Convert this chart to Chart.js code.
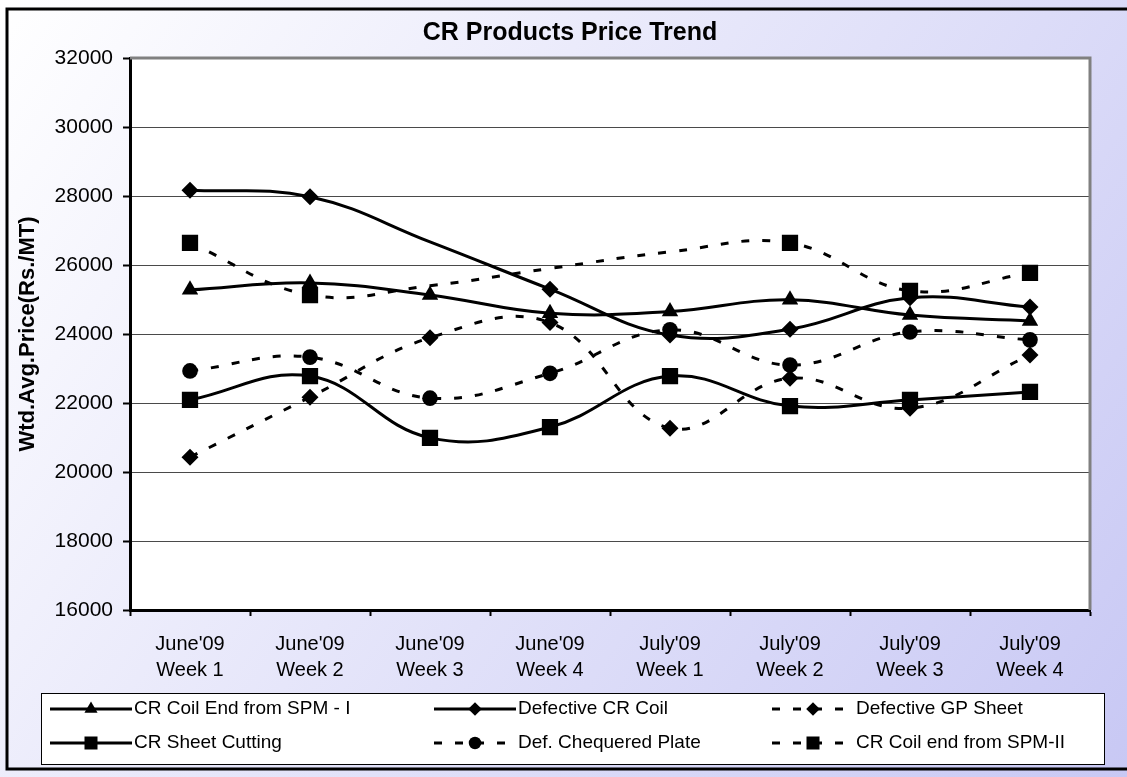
<!DOCTYPE html>
<html>
<head>
<meta charset="utf-8">
<title>CR Products Price Trend</title>
<script src="https://cdn.jsdelivr.net/npm/chart.js@4.4.0/dist/chart.umd.min.js"></script>
<style>
  html, body { margin: 0; padding: 0; background: #fff; }
  #wrap { width: 1127px; height: 777px; position: relative; }
</style>
</head>
<body>
<div id="wrap"><canvas id="priceChart"></canvas></div>
<script>
// Categories (x axis, two lines each)
const weeks = [
    ["June'09", "Week 1"], ["June'09", "Week 2"], ["June'09", "Week 3"], ["June'09", "Week 4"],
    ["July'09", "Week 1"], ["July'09", "Week 2"], ["July'09", "Week 3"], ["July'09", "Week 4"]
];

// Series values (Rs./MT)
const spm1Coil   = [25280, 25480, 25130, 24600, 24650, 24990, 24550, 24380];
const defCrCoil  = [28170, 27980, 26670, 25300, 23970, 24140, 25050, 24780];
const defGpSheet = [20430, 22170, 23890, 24330, 21270, 22720, 21850, 23390];
const sheetCut   = [22090, 22780, 20990, 21300, 22780, 21910, 22090, 22320];
const chequered  = [22930, 23330, 22140, 22860, 24120, 23100, 24060, 23830];
const spm2Coil   = [26640, 25130, 25400, 25900, 26380, 26640, 25250, 25770];

const seriesNames = [
    'CR Coil End from SPM - I', 'Defective CR Coil', 'Defective GP Sheet',
    'CR Sheet Cutting', 'Def. Chequered Plate', 'CR Coil end from SPM-II'
];

// Y axis ticks
const yMin = 16000;
const yMax = 32000;
const yStep = 2000;

const FONT = '"Liberation Sans", Arial, sans-serif';
const DASH = [8, 13];

// points that have no marker drawn in the original
function radii(n, r, hidden) {
    const out = [];
    for (let i = 0; i < n; i++) out.push(hidden.includes(i) ? 0 : r);
    return out;
}

function series(label, data, style, radius, dashed, hidden) {
    return {
        label: label,
        data: data,
        borderColor: '#000',
        backgroundColor: '#000',
        borderWidth: 3,
        borderDash: dashed ? DASH : [],
        tension: 0.4,
        fill: false,
        pointStyle: style,
        pointRadius: radii(data.length, radius, hidden || []),
        pointBorderWidth: 0,
        pointBackgroundColor: '#000',
        _legendRadius: radius * 0.8
    };
}

// Background, frame, title and legend
const framePlugin = {
    id: 'frame',
    beforeDraw(chart) {
        const ctx = chart.ctx;
        const w = chart.width, h = chart.height;
        const area = chart.chartArea;
        ctx.save();
        const g = ctx.createLinearGradient(0, 0, w, h);
        g.addColorStop(0, '#ffffff');
        g.addColorStop(1, '#c8c8f4');
        ctx.fillStyle = g;
        ctx.fillRect(0, 0, w, h);
        ctx.fillStyle = '#ffffff';
        ctx.fillRect(area.left, area.top, area.right - area.left, area.bottom - area.top);
        ctx.restore();
    },
    afterDraw(chart) {
        const ctx = chart.ctx;
        const area = chart.chartArea;
        ctx.save();
        // plot area top / right border (grey)
        ctx.strokeStyle = '#808080';
        ctx.lineWidth = 3;
        ctx.beginPath();
        ctx.moveTo(area.left, area.top);
        ctx.lineTo(area.right, area.top);
        ctx.lineTo(area.right, area.bottom);
        ctx.stroke();

        // outer black frame
        ctx.strokeStyle = '#000';
        ctx.lineWidth = 3;
        ctx.beginPath();
        ctx.moveTo(1127, 9);
        ctx.lineTo(7, 9);
        ctx.lineTo(7, 769);
        ctx.lineTo(1127, 769);
        ctx.stroke();

        // title
        ctx.fillStyle = '#000';
        ctx.font = 'bold 25px ' + FONT;
        ctx.textAlign = 'center';
        ctx.textBaseline = 'middle';
        ctx.fillText('CR Products Price Trend', 570, 33);

        // legend box
        ctx.fillStyle = '#fff';
        ctx.fillRect(41, 693, 1063, 71);
        ctx.strokeStyle = '#000';
        ctx.lineWidth = 1;
        ctx.strokeRect(41.5, 693.5, 1063, 71);

        const colX = [50, 434, 772];
        const rowY = [709, 743];
        const lineLen = 82;
        chart.data.datasets.forEach((ds, i) => {
            const x = colX[i % 3];
            const y = rowY[Math.floor(i / 3)];
            ctx.save();
            ctx.strokeStyle = '#000';
            ctx.lineWidth = 3;
            ctx.setLineDash(ds.borderDash);
            ctx.beginPath();
            ctx.moveTo(x, y);
            ctx.lineTo(x + lineLen, y);
            ctx.stroke();
            ctx.setLineDash([]);
            ctx.fillStyle = '#000';
            Chart.helpers.drawPoint(ctx, {
                pointStyle: ds.pointStyle,
                radius: ds._legendRadius,
                rotation: 0,
                borderWidth: 0
            }, x + lineLen / 2, y);
            ctx.restore();
            ctx.fillStyle = '#000';
            ctx.font = '19px ' + FONT;
            ctx.textAlign = 'left';
            ctx.textBaseline = 'middle';
            ctx.fillText(ds.label, x + lineLen + 2, y);
        });
        ctx.restore();
    }
};

const ctx = document.getElementById('priceChart').getContext('2d');

new Chart(ctx, {
    type: 'line',
    data: {
        labels: weeks,
        datasets: [
            series(seriesNames[0], spm1Coil, 'triangle', 9.5, false),
            series(seriesNames[1], defCrCoil, 'rectRot', 8.5, false, [2]),
            series(seriesNames[2], defGpSheet, 'rectRot', 8.5, true),
            series(seriesNames[3], sheetCut, 'rect', 11.5, false),
            series(seriesNames[4], chequered, 'circle', 7.8, true),
            series(seriesNames[5], spm2Coil, 'rect', 11.5, true, [2, 3, 4])
        ]
    },
    options: {
        responsive: true,
        maintainAspectRatio: false,
        animation: false,
        layout: {
            padding: { left: 0, top: 58, right: 37, bottom: 87 }
        },
        scales: {
            x: {
                offset: true,
                grid: {
                    offset: true,
                    drawOnChartArea: false,
                    drawTicks: true,
                    tickLength: 6,
                    tickColor: '#000',
                    tickWidth: 2
                },
                border: { color: '#000', width: 3 },
                ticks: {
                    color: '#000',
                    font: { family: FONT, size: 20, lineHeight: 1.3 },
                    padding: 15,
                    maxRotation: 0,
                    autoSkip: false
                },
                afterFit(scale) { scale.height = 80; }
            },
            y: {
                min: yMin,
                max: yMax,
                grid: {
                    color: '#4a4a4a',
                    lineWidth: 1,
                    tickLength: 7,
                    tickColor: '#000',
                    tickWidth: 2
                },
                border: { color: '#000', width: 3 },
                ticks: {
                    stepSize: yStep,
                    color: '#000',
                    font: { family: FONT, size: 21 },
                    padding: 10,
                    callback: v => String(v)
                },
                title: {
                    display: true,
                    text: 'Wtd.Avg.Price(Rs./MT)',
                    color: '#000',
                    font: { family: FONT, size: 22, weight: 'bold' },
                    padding: { top: 15, bottom: 0 }
                },
                afterFit(scale) { scale.width = 130; }
            }
        },
        plugins: {
            legend: { display: false },
            title: { display: false },
            tooltip: { enabled: false }
        }
    },
    plugins: [framePlugin]
});
</script>
</body>
</html>
